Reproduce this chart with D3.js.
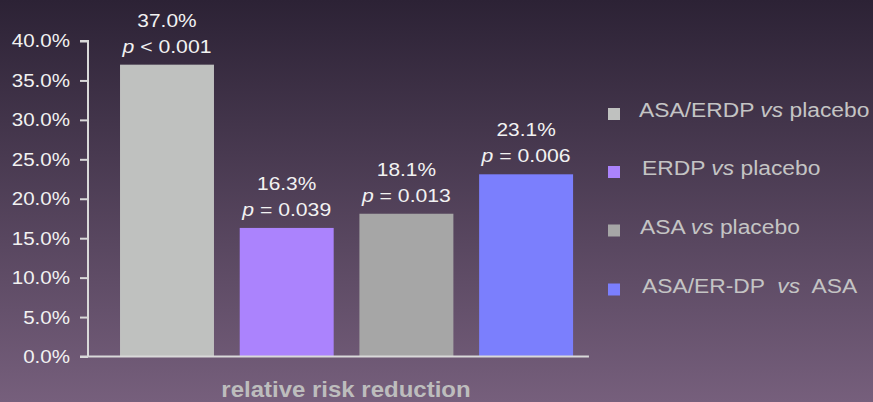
<!DOCTYPE html>
<html><head><meta charset="utf-8">
<script src="https://cdn.jsdelivr.net/npm/d3@7"></script>
<style>
html,body{margin:0;padding:0;background:#2d2336;}
svg{display:block;font-family:"Liberation Sans",Arial,sans-serif;}
</style></head><body>
<svg id="c" width="873" height="402"></svg>
<script>
const categories = ["ASA/ERDP vs placebo","ERDP vs placebo","ASA vs placebo","ASA/ER-DP vs ASA"];
const values = [37.0, 16.3, 18.1, 23.1];
const pLabels = [["<","0.001"],["=","0.039"],["=","0.013"],["=","0.006"]];
const legendLabels = [
  [["ASA/ERDP ",false],["vs",true],[" placebo",false]],
  [["ERDP ",false],["vs",true],[" placebo",false]],
  [["ASA ",false],["vs",true],[" placebo",false]],
  [["ASA/ER-DP  ",false],["vs",true],["  ASA",false]]
];
const colors = ["#bfc1bf","#ab83fd","#a6a6a6","#7b7ffd"];
const yTicks = [0,5,10,15,20,25,30,35,40];
const xTitle = "relative risk reduction";

const svg = d3.select("#c");
const defs = svg.append("defs");
const g = defs.append("linearGradient").attr("id","bg").attr("x1",0).attr("y1",0).attr("x2",0).attr("y2",1);
g.append("stop").attr("offset","0%").attr("stop-color","#2c2235");
g.append("stop").attr("offset","100%").attr("stop-color","#765f7c");
svg.append("rect").attr("width",873).attr("height",402).attr("fill","url(#bg)");

function stretch(sel, f){
  sel.each(function(){
    const L = this.getComputedTextLength();
    d3.select(this).attr("textLength", L*f).attr("lengthAdjust","spacingAndGlyphs");
  });
}

const x = d3.scaleBand().domain(categories).range([107.15,585.95]).paddingInner(0.215).paddingOuter(0.1075);
const y = d3.scaleLinear().domain([0,40]).range([356.5,41]);

// bars
svg.selectAll("rect.bar").data(values).enter().append("rect")
  .attr("class","bar")
  .attr("x",(d,i)=>x(categories[i]))
  .attr("width",x.bandwidth())
  .attr("y",d=>y(d))
  .attr("height",d=>y(0)-y(d))
  .attr("fill",(d,i)=>colors[i]);

// axis
const axis = d3.axisLeft(y).tickValues(yTicks).tickFormat(d=>d.toFixed(1)+"%").tickSize(8).tickPadding(10);
const ax = svg.append("g").attr("transform","translate(88,0)").call(axis);
ax.select(".domain").attr("stroke","#d9d9d9").attr("stroke-width",2).attr("d","M-8,41H0V356.5");
ax.selectAll(".tick line").attr("stroke","#d9d9d9").attr("stroke-width",2);
ax.selectAll(".tick text").attr("fill","#f2f2f2").attr("font-size",18.7).attr("font-family","Liberation Sans, Arial, sans-serif");
stretch(ax.selectAll(".tick text"), 1.1);
// baseline
svg.append("line").attr("x1",80).attr("x2",x.range()[1]+3).attr("y1",y(0)).attr("y2",y(0))
  .attr("stroke","#d9d9d9").attr("stroke-width",2);

// value labels
values.forEach((v,i)=>{
  const cx = x(categories[i]) + x.bandwidth()/2;
  const top = y(v);
  const a = svg.append("text").attr("x",cx).attr("y",top-38).attr("text-anchor","middle")
    .attr("fill","#f2f2f2").attr("font-size",19).text(v.toFixed(1)+"%");
  stretch(a, 1.1);
  const t = svg.append("text").attr("x",cx).attr("y",top-12).attr("text-anchor","middle")
    .attr("fill","#f2f2f2").attr("font-size",19);
  t.append("tspan").attr("font-style","italic").text("p");
  t.append("tspan").text(" "+pLabels[i][0]+" "+pLabels[i][1]);
  stretch(t, 1.115);
});

// legend
const legY = [113.5, 171.5, 230, 289];
const legTX = [639, 642, 640, 642];
legendLabels.forEach((parts,i)=>{
  svg.append("rect").attr("x",608).attr("y",legY[i]-5.5).attr("width",12).attr("height",12).attr("fill",colors[i]);
  const t = svg.append("text").attr("x",legTX[i]).attr("y",legY[i]+3.5).attr("fill","#c4c4c4").attr("font-size",19.5)
    .attr("xml:space","preserve").style("white-space","pre");
  parts.forEach(p=>t.append("tspan").attr("font-style",p[1]?"italic":"normal").text(p[0]));
  stretch(t, 1.17);
});

// x title
const tt = svg.append("text").attr("x",346).attr("y",396.5).attr("text-anchor","middle")
  .attr("fill","#bdbdbd").attr("font-size",22).attr("font-weight","bold").text(xTitle);
stretch(tt, 1.09);
</script>
</body></html>
